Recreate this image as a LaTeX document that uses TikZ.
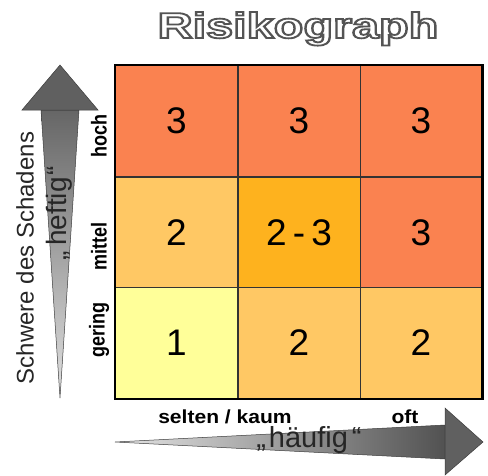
\documentclass[tikz,border=0pt]{standalone}
\usepackage{fontspec}
\setmainfont{Liberation Sans}

\definecolor{riskhigh}{RGB}{250,130,80}
\definecolor{riskmid}{RGB}{255,200,100}
\definecolor{riskmidhigh}{RGB}{254,178,30}
\definecolor{risklow}{RGB}{255,255,153}
\definecolor{arrowdark}{RGB}{96,96,96}
\definecolor{arrowline}{RGB}{60,60,60}

% outlined lettering: white fill, grey stroke (PDF text render mode 2)
\newcommand{\outlinedtext}[1]{{\color{white}%
  \special{pdf:literal direct 2 Tr 1.8 w 0.33 G}#1\special{pdf:literal direct 0 Tr}}}

\tikzset{
  cell/.style={draw=black!80, line width=0.8pt, minimum width=122pt, minimum height=111pt,
               inner sep=0pt, font=\fontsize{37}{37}\selectfont},
  levellabel/.style={font=\bfseries\fontsize{18}{18}\selectfont, inner sep=0pt},
  axistext/.style={text=black!85, inner sep=0pt},
  arrowhead/.style={fill=arrowdark, draw=arrowline, line width=0.5pt},
  arrowshaft/.style={draw=arrowline, line width=0.5pt},
}

\begin{document}
\begin{tikzpicture}[x=1pt, y=-1pt]
\useasboundingbox (0,0) rectangle (488,475);

% title in outlined letters
\node[inner sep=0pt, anchor=base] (title) at (298,38)
  {\scalebox{1.35}[1]{\fontsize{36}{36}\bfseries\outlinedtext{Risikograph}}};

% vertical arrow: severity of damage
\shade[top color=black!60, bottom color=black!12] (41,110) -- (79,110) -- (60,398) -- cycle;
\draw[arrowshaft] (41,110) -- (79,110) -- (60,398) -- cycle;
\draw[arrowhead] (22,110) -- (60,65) -- (98,110) -- cycle;

% horizontal arrow: frequency
\shade[left color=black!10, right color=black!68] (115,442) -- (445,425) -- (445,459) -- cycle;
\draw[arrowshaft] (115,442) -- (445,425) -- (445,459) -- cycle;
\draw[arrowhead] (445,408) -- (483,442) -- (445,475) -- cycle;

% risk matrix cells
\node[cell, fill=riskhigh]    (c13) at (176.5,121) {3};
\node[cell, fill=riskhigh]    (c23) at (299,121)   {3};
\node[cell, fill=riskhigh]    (c33) at (421,121)   {3};
\node[cell, fill=riskmid]     (c12) at (176.5,232.5) {2};
\node[cell, fill=riskmidhigh] (c22) at (299,232.5) {2\,-\,3};
\node[cell, fill=riskhigh]    (c32) at (421,232.5) {3};
\node[cell, fill=risklow]     (c11) at (176.5,343) {1};
\node[cell, fill=riskmid]     (c21) at (299,343)   {2};
\node[cell, fill=riskmid]     (c31) at (421,343)   {2};

% thick outer frame
\draw[line width=2.6pt] (c13.north west) rectangle (c31.south east);

% severity levels
\node[levellabel, rotate=90] (hoch)   at (99,136) {\scalebox{1}[1.2]{hoch}};
\node[levellabel, rotate=90] (mittel) at (99,246) {\scalebox{1}[1.2]{mittel}};
\node[levellabel, rotate=90] (gering) at (99,330) {\scalebox{1}[1.2]{gering}};

% frequency levels
\node[levellabel, anchor=base] (selten) at (225,423) {\scalebox{1.17}[1.05]{selten / kaum}};
\node[levellabel, anchor=base] (oft)    at (405,423) {\scalebox{1.17}[1.05]{oft}};

% axis captions
\node[axistext, rotate=90, font=\fontsize{24}{24}\selectfont] (severity) at (25,258) {Schwere des Schadens};
\node[axistext, rotate=90, font=\fontsize{28}{28}\selectfont] (heftig) at (59,213) {„\hspace{5pt}heftig\hspace{2pt}“};
\node[axistext, anchor=base, font=\fontsize{29}{29}\selectfont] (haeufig) at (309,447) {„\hspace{3pt}häufig\hspace{4pt}“};
\end{tikzpicture}
\end{document}
